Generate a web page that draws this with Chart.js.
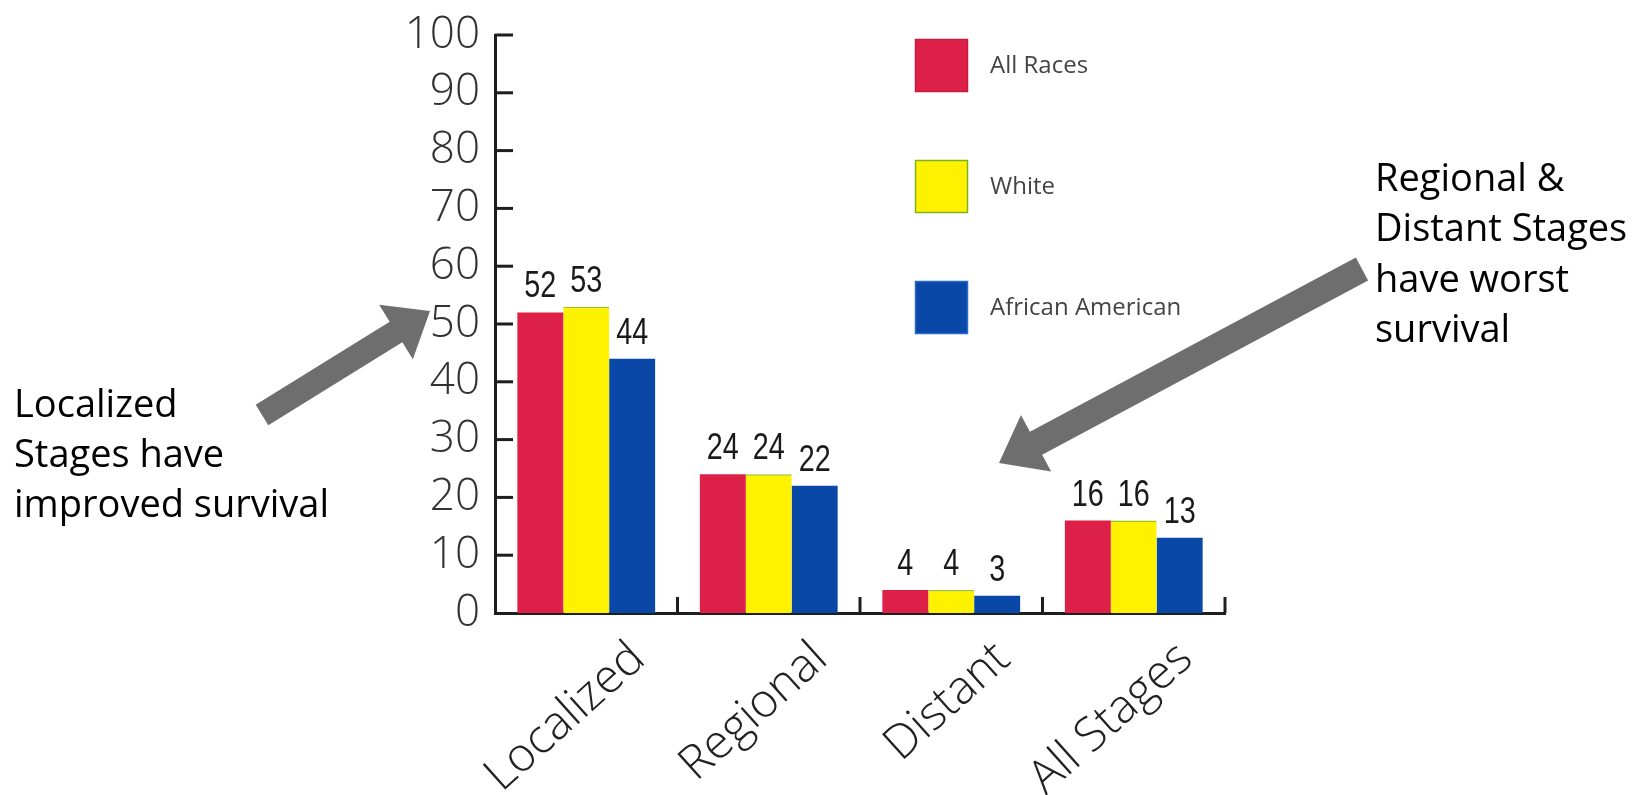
<!DOCTYPE html>
<html><head><meta charset="utf-8">
<script src="https://cdn.jsdelivr.net/npm/chart.js@4.4.1/dist/chart.umd.min.js"></script>
<style>html,body{margin:0;padding:0;background:#fff;overflow:hidden}canvas{display:block}</style>
</head><body>
<canvas id="c" width="1649" height="795"></canvas>
<script>
// ---- data ----
const categories = ['Localized', 'Regional', 'Distant', 'All Stages'];
const seriesNames = ['All Races', 'White', 'African American'];
const allRaces = [52, 24, 4, 16];
const white = [53, 24, 4, 16];
const africanAmerican = [44, 22, 3, 13];
const yTickValues = [0, 10, 20, 30, 40, 50, 60, 70, 80, 90, 100];
const leftNote = ['Localized', 'Stages have', 'improved survival'];
const rightNote = ['Regional &', 'Distant Stages', 'have worst', 'survival'];

// ---- styles ----
const RED = '#DC2048', YELLOW = '#FFF200', BLUE = '#0A48A8';
const AXIS = '#1e1e1e';
const ARROW = '#6e6e6e';

const axisTicksPlugin = {
  id: 'axisTicks',
  afterDatasetsDraw(chart) {
    const ctx = chart.ctx, y = chart.scales.y, x = chart.scales.x, a = chart.chartArea;
    ctx.save();
    ctx.strokeStyle = AXIS; ctx.lineWidth = 3;
    y.ticks.forEach(t => {
      if (t.value === 0) return;
      const py = y.getPixelForValue(t.value);
      ctx.beginPath(); ctx.moveTo(a.left, py); ctx.lineTo(a.left + 18, py); ctx.stroke();
    });
    for (let i = 0; i < categories.length; i++) {
      const px = i < categories.length - 1 ? (x.getPixelForValue(i) + x.getPixelForValue(i + 1)) / 2 : a.right;
      ctx.beginPath(); ctx.moveTo(px, a.bottom); ctx.lineTo(px, a.bottom - 16); ctx.stroke();
    }
    ctx.restore();
  }
};

const valueLabelPlugin = {
  id: 'valueLabels',
  afterDatasetsDraw(chart) {
    const ctx = chart.ctx;
    ctx.save();
    ctx.fillStyle = '#1a1a1a';
    ctx.font = '37px "Liberation Sans Narrow", "Liberation Sans", sans-serif';
    ctx.textAlign = 'center'; ctx.textBaseline = 'alphabetic';
    const sx = Math.min(1, 16 / ctx.measureText('0').width);
    chart.data.datasets.forEach((ds, di) => {
      chart.getDatasetMeta(di).data.forEach((bar, i) => {
        ctx.save();
        ctx.translate(bar.x, bar.y - 15);
        ctx.scale(sx, 1);
        ctx.fillText(String(ds.data[i]), 0, 0);
        ctx.restore();
      });
    });
    ctx.restore();
  }
};

const legendPlugin = {
  id: 'legendBoxes',
  afterDraw(chart) {
    const ctx = chart.ctx;
    const tops = [39, 160, 281];
    ctx.save();
    chart.data.datasets.forEach((ds, i) => {
      ctx.fillStyle = ds.backgroundColor;
      ctx.fillRect(915, tops[i], 53, 53);
      ctx.strokeStyle = ds.legendBorder; ctx.lineWidth = 1.5;
      ctx.strokeRect(915.5, tops[i] + 0.5, 52, 52);
      ctx.fillStyle = '#444';
      ctx.font = '24px "Open Sans", sans-serif';
      ctx.textAlign = 'left'; ctx.textBaseline = 'middle';
      ctx.fillText(ds.label, 990, tops[i] + 27);
    });
    ctx.restore();
  }
};

function drawArrow(ctx, x0, y0, x1, y1, w, hl, hw) {
  const dx = x1 - x0, dy = y1 - y0, L = Math.hypot(dx, dy);
  const ux = dx / L, uy = dy / L, nx = -uy, ny = ux;
  const bx = x1 - ux * hl, by = y1 - uy * hl;
  ctx.beginPath();
  ctx.moveTo(x0 + nx * w / 2, y0 + ny * w / 2);
  ctx.lineTo(bx + nx * w / 2, by + ny * w / 2);
  ctx.lineTo(bx + nx * hw / 2, by + ny * hw / 2);
  ctx.lineTo(x1, y1);
  ctx.lineTo(bx - nx * hw / 2, by - ny * hw / 2);
  ctx.lineTo(bx - nx * w / 2, by - ny * w / 2);
  ctx.lineTo(x0 - nx * w / 2, y0 - ny * w / 2);
  ctx.closePath();
  ctx.fill();
}

const notesPlugin = {
  id: 'notes',
  afterDraw(chart) {
    const ctx = chart.ctx;
    ctx.save();
    ctx.fillStyle = ARROW;
    drawArrow(ctx, 262, 415, 430, 311, 24, 40, 64);
    drawArrow(ctx, 1362, 269, 999, 463, 26, 42, 64);
    ctx.fillStyle = '#000';
    ctx.font = '38px "Open Sans", sans-serif';
    ctx.textAlign = 'left'; ctx.textBaseline = 'alphabetic';
    leftNote.forEach((s, i) => ctx.fillText(s, 14, 417 + i * 50));
    rightNote.forEach((s, i) => ctx.fillText(s, 1375, 191 + i * 50.3));
    ctx.restore();
  }
};

new Chart(document.getElementById('c'), {
  type: 'bar',
  data: {
    labels: categories,
    datasets: [
      { label: seriesNames[0], data: allRaces, backgroundColor: RED, legendBorder: '#c81a3e' },
      { label: seriesNames[1], data: white, backgroundColor: YELLOW, borderColor: '#9bc21a',
        borderWidth: { top: 1.5, left: 0, right: 0, bottom: 0 }, borderSkipped: 'bottom', legendBorder: '#7fb21a' },
      { label: seriesNames[2], data: africanAmerican, backgroundColor: BLUE, legendBorder: '#2a6acb' }
    ]
  },
  options: {
    responsive: false,
    animation: false,
    events: [],
    layout: { padding: { left: 0, right: 424, top: 35, bottom: 0 } },
    datasets: { bar: { barPercentage: 1, categoryPercentage: 0.755 } },
    plugins: { legend: { display: false }, tooltip: { enabled: false } },
    scales: {
      y: {
        min: 0, max: 100,
        afterFit(s) { s.width = 495; s.paddingTop = 0; s.paddingBottom = 0; },
        afterBuildTicks(s) { s.ticks = yTickValues.map(v => ({ value: v })); },
        grid: { display: false, drawTicks: false },
        border: { display: true, color: AXIS, width: 3 },
        ticks: { padding: 15, color: '#333', font: { family: '"Open Sans", sans-serif', size: 44, weight: '300' } }
      },
      x: {
        afterFit(s) { s.height = 182; },
        grid: { display: false, drawTicks: false },
        border: { display: true, color: AXIS, width: 3 },
        ticks: {
          autoSkip: false, maxRotation: 42, minRotation: 42, padding: 18, labelOffset: 52,
          color: '#222', font: { family: '"Open Sans", sans-serif', size: 47, weight: '300' }
        }
      }
    }
  },
  plugins: [axisTicksPlugin, valueLabelPlugin, legendPlugin, notesPlugin]
});
</script>
</body></html>
